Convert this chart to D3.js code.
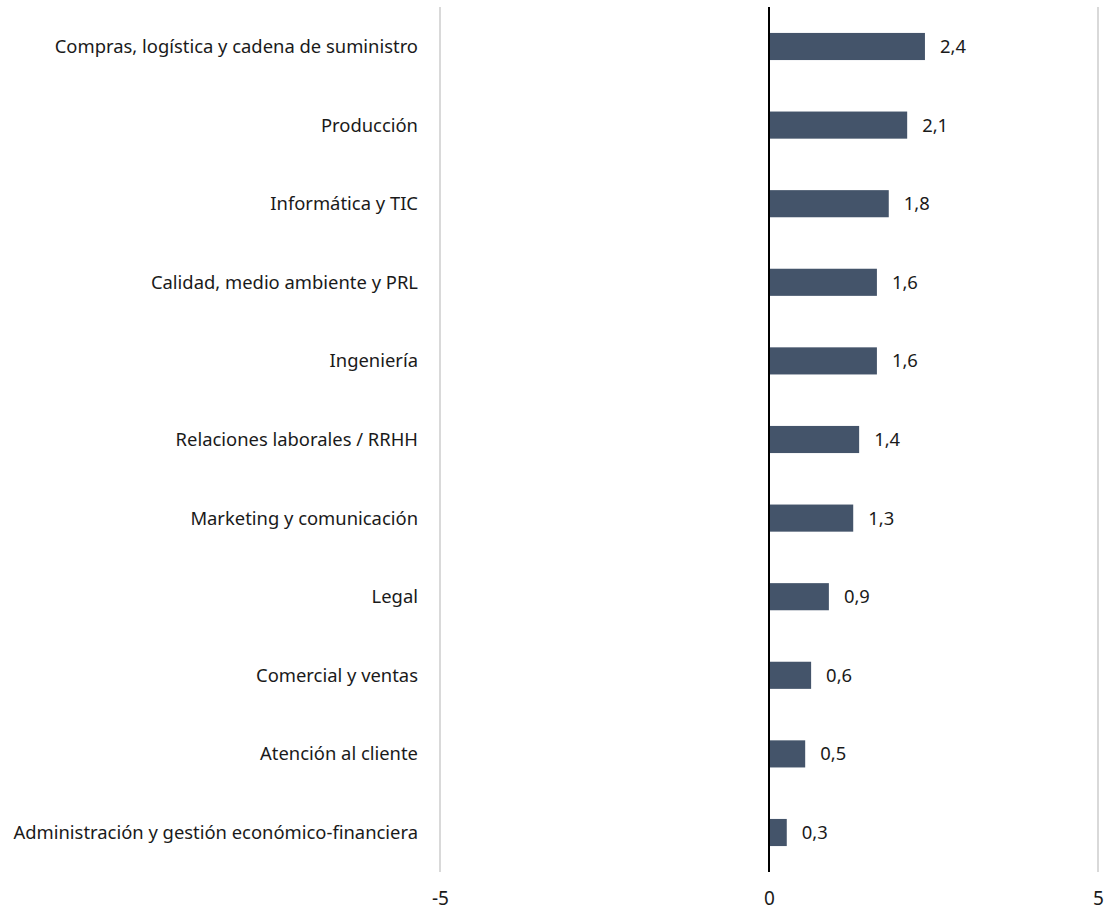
<!DOCTYPE html>
<html>
<head>
<meta charset="utf-8">
<script src="https://cdn.jsdelivr.net/npm/d3@7"></script>
<style>
  body { margin: 0; background: #fff; }
  text { font-family: "Noto Sans", "Open Sans", sans-serif; fill: #1a1a1a; }
</style>
</head>
<body>
<svg id="chart" width="1104" height="914"></svg>
<script>
// categories top to bottom
var categories = [
  "Compras, logística y cadena de suministro",
  "Producción",
  "Informática y TIC",
  "Calidad, medio ambiente y PRL",
  "Ingeniería",
  "Relaciones laborales / RRHH",
  "Marketing y comunicación",
  "Legal",
  "Comercial y ventas",
  "Atención al cliente",
  "Administración y gestión económico-financiera"
];
var values = [2.37, 2.1, 1.82, 1.64, 1.64, 1.37, 1.28, 0.91, 0.64, 0.55, 0.27];
var labels = ["2,4", "2,1", "1,8", "1,6", "1,6", "1,4", "1,3", "0,9", "0,6", "0,5", "0,3"];
var xTicks = [-5, 0, 5];

var margin = { top: 7, right: 6, bottom: 42, left: 440 };
var width = 1104 - margin.left - margin.right;
var height = 914 - margin.top - margin.bottom;

var svg = d3.select("#chart").append("g")
  .attr("transform", "translate(" + margin.left + "," + margin.top + ")");

var x = d3.scaleLinear().domain([-5, 5]).range([0, width]);
var y = d3.scaleBand().domain(categories).range([0, height]).paddingInner(0.655).paddingOuter(0.33);

// gridlines
svg.selectAll(".grid")
  .data(xTicks.filter(function(d) { return d !== 0; }))
  .enter().append("line")
  .attr("x1", function(d) { return x(d); })
  .attr("x2", function(d) { return x(d); })
  .attr("y1", 0)
  .attr("y2", height)
  .style("stroke", "#d9d9d9")
  .style("stroke-width", 2);

// bars
svg.selectAll("rect")
  .data(values)
  .enter().append("rect")
  .attr("x", x(0))
  .attr("y", function(d, i) { return y(categories[i]); })
  .attr("width", function(d) { return x(d) - x(0); })
  .attr("height", y.bandwidth())
  .style("fill", "#44546a");

// value labels
svg.selectAll(".val")
  .data(values)
  .enter().append("text")
  .attr("class", "val")
  .attr("x", function(d) { return x(d) + 15; })
  .attr("y", function(d, i) { return y(categories[i]) + y.bandwidth() / 2; })
  .attr("dy", "0.35em")
  .style("font-size", "18.4px")
  .text(function(d, i) { return labels[i]; });

// zero line
svg.append("line")
  .attr("x1", x(0)).attr("x2", x(0))
  .attr("y1", 0).attr("y2", height)
  .style("stroke", "#000")
  .style("stroke-width", 2);

// category labels
svg.selectAll(".cat")
  .data(categories)
  .enter().append("text")
  .attr("class", "cat")
  .attr("x", -22)
  .attr("y", function(d) { return y(d) + y.bandwidth() / 2; })
  .attr("dy", "0.35em")
  .style("text-anchor", "end")
  .style("font-size", "18.4px")
  .text(function(d) { return d; });

// x axis
var xAxis = svg.append("g")
  .attr("transform", "translate(0," + height + ")")
  .call(d3.axisBottom(x).tickValues(xTicks).tickSize(0).tickPadding(20).tickFormat(function(d) { return String(d); }));
xAxis.select(".domain").remove();
xAxis.selectAll("text")
  .style("font-size", "19px")
  .style("font-family", "'Noto Sans', sans-serif")
  .style("fill", "#1a1a1a");
</script>
</body>
</html>
